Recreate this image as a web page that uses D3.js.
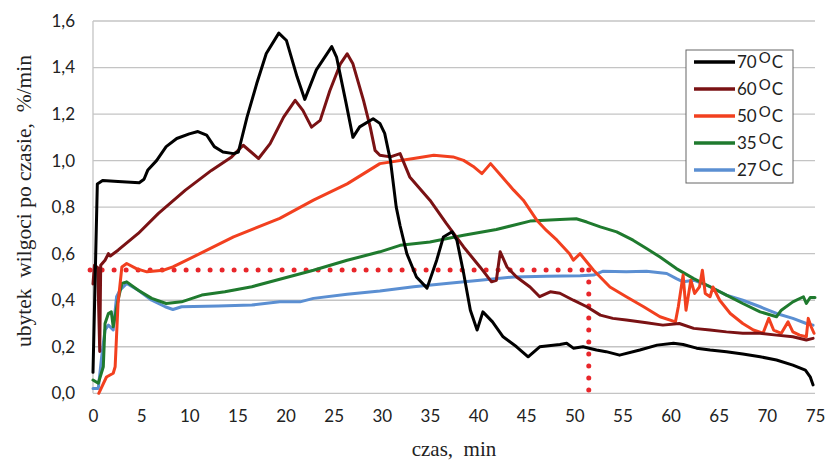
<!DOCTYPE html>
<html><head><meta charset="utf-8">
<script src="https://cdn.jsdelivr.net/npm/d3@7"></script>
<style>
html,body{margin:0;padding:0;background:#fff;}
svg{display:block;}
</style></head>
<body>
<svg id="chart" width="826" height="463"></svg>
<script>
// ---- data ----
const xTicks = [0,5,10,15,20,25,30,35,40,45,50,55,60,65,70,75];
const yTicks = [0,0.2,0.4,0.6,0.8,1.0,1.2,1.4,1.6];
const seriesNames = ["70","60","50","35","27"];
const seriesColors = ["#000000","#7a1214","#f2401f","#1f7a2e","#5b8fd2"];

const s70 = [[0,0.09],[0.45,0.90],[1.0,0.915],[2.6,0.91],[4.8,0.905],[5.3,0.92],[5.7,0.96],[6.6,1.0],[7.6,1.06],[8.7,1.095],[10,1.115],[10.9,1.125],[11.8,1.11],[12.6,1.06],[13.5,1.037],[14.6,1.03],[15.1,1.037],[16,1.187],[17,1.33],[18,1.46],[19.3,1.548],[20.1,1.516],[21.2,1.36],[22,1.263],[23.2,1.39],[24.8,1.49],[25.3,1.445],[26.3,1.245],[27,1.10],[27.7,1.145],[29.1,1.18],[29.8,1.16],[30.3,1.117],[30.9,1.0],[31.5,0.80],[31.9,0.72],[32.6,0.60],[33.6,0.50],[34.7,0.452],[35.7,0.572],[36.4,0.672],[37.3,0.694],[37.8,0.658],[38.5,0.516],[39.2,0.357],[39.9,0.272],[40.5,0.35],[41.5,0.307],[42.6,0.243],[44.0,0.20],[45.2,0.157],[46.4,0.20],[48.5,0.21],[49.2,0.215],[49.9,0.194],[50.9,0.20],[52.3,0.186],[53.3,0.179],[54.7,0.164],[56.8,0.186],[58.6,0.207],[60.3,0.215],[61.3,0.21],[62.7,0.194],[64.1,0.186],[65.8,0.179],[67.5,0.169],[69.3,0.157],[71.0,0.143],[72.7,0.121],[74.0,0.10],[74.5,0.071],[74.8,0.036]];

const s60 = [[0,0.47],[0.15,0.55],[0.5,0.54],[0.6,0.35],[0.7,0.18],[0.8,0.55],[1.25,0.572],[1.6,0.60],[1.8,0.59],[2.6,0.615],[4.7,0.687],[6.8,0.773],[9.6,0.873],[12.3,0.958],[14.4,1.016],[15.6,1.066],[17.2,1.009],[18.4,1.073],[19.8,1.187],[21.0,1.259],[21.8,1.216],[22.7,1.144],[23.6,1.173],[24.6,1.30],[25.7,1.416],[26.4,1.459],[27.0,1.416],[28.1,1.259],[28.8,1.144],[29.3,1.044],[29.8,1.023],[30.9,1.016],[31.9,1.03],[32.9,0.93],[35.0,0.83],[36.7,0.73],[38.5,0.629],[40.2,0.543],[41.4,0.479],[41.9,0.486],[42.3,0.608],[43.0,0.543],[44.0,0.50],[45.4,0.457],[46.4,0.415],[47.5,0.436],[48.5,0.43],[49.9,0.40],[51.3,0.372],[52.7,0.336],[54.0,0.322],[55.4,0.315],[57.5,0.303],[59.2,0.293],[60.9,0.30],[62.4,0.279],[64.1,0.272],[65.8,0.264],[67.5,0.258],[69.3,0.258],[71.0,0.25],[72.7,0.243],[74.1,0.229],[74.8,0.236]];

const s50 = [[0.6,0],[1.4,0.07],[2.1,0.086],[2.3,0.114],[2.6,0.386],[3.0,0.543],[3.5,0.558],[4.5,0.536],[5.6,0.522],[7.3,0.529],[8.3,0.543],[11.1,0.60],[14.6,0.672],[19.4,0.752],[22.9,0.83],[26.4,0.90],[29.8,0.987],[33.3,1.009],[35.4,1.023],[37.4,1.016],[38.5,1.001],[39.5,0.975],[40.4,0.944],[41.3,0.987],[42.4,0.935],[43.7,0.873],[44.7,0.83],[45.4,0.787],[46.1,0.744],[47.1,0.70],[48.2,0.658],[49.5,0.60],[49.9,0.572],[50.6,0.60],[52.0,0.529],[53.7,0.457],[55.4,0.415],[57.2,0.372],[58.9,0.329],[60.5,0.307],[60.8,0.372],[61.3,0.508],[61.6,0.357],[62.1,0.486],[62.5,0.429],[63.0,0.457],[63.3,0.529],[63.6,0.429],[64.1,0.415],[64.4,0.457],[65.1,0.40],[66.2,0.343],[67.5,0.30],[68.6,0.272],[69.6,0.258],[70.2,0.322],[70.7,0.272],[71.5,0.258],[72.2,0.307],[72.7,0.264],[73.4,0.25],[74.1,0.243],[74.3,0.322],[74.6,0.286],[74.9,0.258]];

const s35 = [[0,0.057],[0.55,0.043],[1.07,0.114],[1.25,0.30],[1.6,0.343],[1.9,0.35],[2.1,0.286],[2.6,0.40],[3.0,0.472],[3.5,0.479],[4.7,0.443],[6.1,0.408],[7.6,0.386],[9.2,0.393],[11.3,0.422],[13.7,0.436],[16.5,0.458],[19.4,0.49],[22.9,0.529],[26.4,0.572],[29.8,0.608],[31.9,0.636],[35.0,0.65],[38.5,0.679],[41.9,0.704],[45.4,0.74],[48.5,0.747],[50.2,0.75],[51.3,0.736],[52.7,0.715],[54.4,0.694],[56.1,0.658],[57.5,0.622],[58.9,0.586],[60.6,0.536],[62.4,0.493],[64.1,0.458],[65.8,0.422],[67.5,0.386],[69.3,0.35],[71.0,0.329],[71.5,0.357],[72.7,0.393],[73.8,0.415],[74.1,0.386],[74.5,0.412],[75,0.412]];

const s27 = [[0,0.021],[0.55,0.021],[0.9,0.157],[1.25,0.272],[1.6,0.293],[2.1,0.272],[2.45,0.415],[2.8,0.443],[3.5,0.472],[4.7,0.443],[6.1,0.40],[7.5,0.372],[8.3,0.36],[9.2,0.372],[13.0,0.375],[16.5,0.379],[19.4,0.393],[21.5,0.393],[22.9,0.408],[26.4,0.426],[29.8,0.44],[33.3,0.458],[36.7,0.472],[40.2,0.486],[43.7,0.50],[47.1,0.503],[50.6,0.505],[52.0,0.508],[53.0,0.525],[55.4,0.522],[57.5,0.525],[59.6,0.515],[60.6,0.493],[61.3,0.479],[62.4,0.486],[64.1,0.458],[65.8,0.422],[67.5,0.40],[69.3,0.372],[71.0,0.343],[72.7,0.322],[74.1,0.30],[74.8,0.293]];

const refLevel = 0.53;     // dotted horizontal level
const refTime = [-0.3, 51.5]; // dotted line start / vertical position

// ---- drawing ----
const svg = d3.select("#chart");
const x = d3.scaleLinear().domain([0,75]).range([93,815]);
const y = d3.scaleLinear().domain([0,1.6]).range([393.3,21]);
const gridColor = "#c4c4c4";

// gridlines
svg.append("g").selectAll("line").data(yTicks).join("line")
  .attr("x1", x(0)).attr("x2", x(75))
  .attr("y1", d=>y(d)).attr("y2", d=>y(d))
  .attr("stroke", gridColor).attr("stroke-width", 1.3);
svg.append("line").attr("x1", x(0)).attr("x2", x(0)).attr("y1", y(0)).attr("y2", y(1.6))
  .attr("stroke", gridColor).attr("stroke-width", 1.3);

// axes (labels only)
const fmt = d => d3.format(".1f")(d).replace(".", ",");
const yAxis = svg.append("g").attr("transform", `translate(${x(0)},0)`)
  .call(d3.axisLeft(y).tickValues(yTicks).tickFormat(fmt).tickSize(0).tickPadding(18));
const xAxis = svg.append("g").attr("transform", `translate(0,${y(0)})`)
  .call(d3.axisBottom(x).tickValues(xTicks).tickFormat(d3.format("d")).tickSize(0).tickPadding(17));
[yAxis, xAxis].forEach(a => {
  a.select(".domain").remove();
  a.selectAll("text").attr("font-family", "Lato, 'Open Sans', sans-serif")
    .attr("font-size", 17).attr("fill", "#222");
});

// dotted reference lines
const dotLine = d3.line().x(d=>x(d[0])).y(d=>y(d[1]));
svg.append("path").attr("d", dotLine([[refTime[0], refLevel],[refTime[1], refLevel]]))
  .attr("fill","none").attr("stroke","#e8262b").attr("stroke-width",5)
  .attr("stroke-linecap","round").attr("stroke-dasharray","0 12");
svg.append("path").attr("d", dotLine([[refTime[1], refLevel],[refTime[1], -0.002]]))
  .attr("fill","none").attr("stroke","#e8262b").attr("stroke-width",5)
  .attr("stroke-linecap","round").attr("stroke-dasharray","0 12");

// series lines (drawn back to front so black is on top at overlaps)
const allSeries = [s70, s60, s50, s35, s27];
const line = d3.line().x(d=>x(d[0])).y(d=>y(d[1]));
const order = [4,3,2,1,0];
order.forEach(i => {
  svg.append("path").datum(allSeries[i]).attr("d", line)
    .attr("fill","none").attr("stroke", seriesColors[i]).attr("stroke-width", 3)
    .attr("stroke-linejoin","round").attr("stroke-linecap","round");
});

// legend
const lg = svg.append("g");
lg.append("rect").attr("x",686).attr("y",50).attr("width",107).attr("height",133)
  .attr("fill","#fff").attr("stroke","#666").attr("stroke-width",1);
seriesNames.forEach((n,i) => {
  const cy = 62 + i*27;
  lg.append("line").attr("x1",694).attr("x2",735).attr("y1",cy).attr("y2",cy)
    .attr("stroke", seriesColors[i]).attr("stroke-width",3.5);
  const t = lg.append("text").attr("x",737).attr("y",cy+6)
    .attr("font-family","Lato, 'Open Sans', sans-serif").attr("font-size",17).attr("fill","#222");
  t.append("tspan").text(n);
  t.append("tspan").attr("dy",-5).attr("dx",2).attr("font-size",15).text("O");
  t.append("tspan").attr("dy",5).attr("dx",1).text("C");
});

// axis titles
svg.append("text").attr("x", 454).attr("y", 456).attr("text-anchor","middle")
  .attr("font-family","'Liberation Serif', 'Times New Roman', serif").attr("font-size",21)
  .attr("fill","#222").style("white-space","pre").text("czas,  min");
svg.append("text").attr("transform","translate(31,201) rotate(-90)").attr("text-anchor","middle")
  .attr("font-family","'Liberation Serif', 'Times New Roman', serif").attr("font-size",21.5)
  .attr("fill","#222").style("white-space","pre").text("ubytek  wilgoci po czasie,  %/min");
</script>
</body></html>
